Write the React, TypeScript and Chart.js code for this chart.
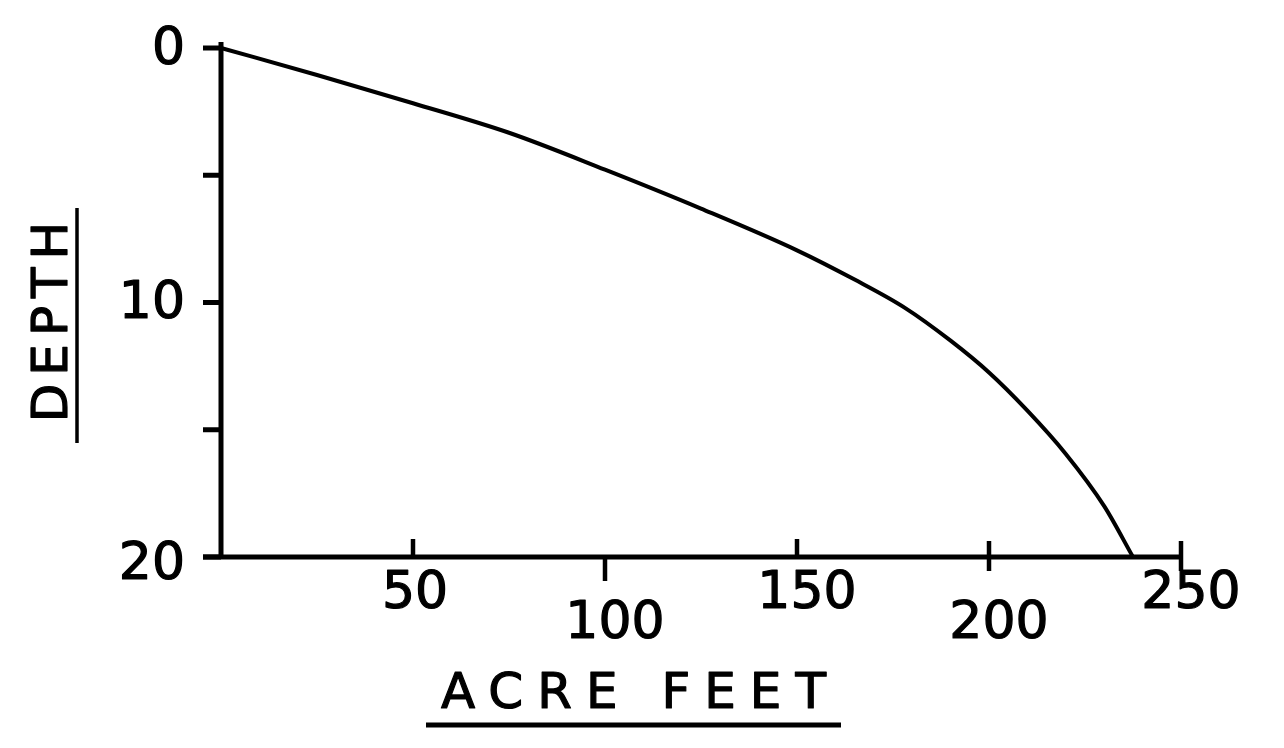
import { useEffect, useRef } from "react";
import { Chart, registerables } from "chart.js";

Chart.register(...registerables);

// ---- data ----
const acreFeet = [0, 25, 50, 75, 100, 125, 150, 165, 178, 190, 200, 210, 220, 230, 237.5];
const depth = [0, 1.06, 2.17, 3.33, 4.78, 6.31, 7.95, 9.1, 10.2, 11.5, 12.75, 14.25, 15.95, 18.0, 20];

const xTickValues = [50, 100, 150, 200, 250];
const xTickLabels = ["50", "100", "150", "200", "250"];
const yTickValues = [0, 5, 10, 15, 20];
const yTickLabels = ["0", "", "10", "", "20"];
const xTitle = "ACRE FEET";
const yTitle = "DEPTH";

// tick-mark side for each x tick (style only)
const X_TICK_SIDE = ["up", "down", "up", "both", "both"];

const FONT = '"DejaVu Sans", "Liberation Sans", sans-serif';

const handAxes = {
  id: "handAxes",
  beforeDatasetsDraw(chart: any) {
    const { ctx, scales } = chart;
    const x = scales.x;
    const y = scales.y;
    const x0 = x.getPixelForValue(0);
    const xEnd = x.getPixelForValue(250);
    const yTop = y.getPixelForValue(0);
    const yBot = y.getPixelForValue(20);

    const line = (a: number, b: number, c: number, d: number) => {
      ctx.beginPath();
      ctx.moveTo(a, b);
      ctx.lineTo(c, d);
      ctx.stroke();
    };
    const text = (t: string, px: number, py: number) => {
      ctx.fillText(t, px, py);
      ctx.strokeText(t, px, py);
    };

    ctx.save();
    ctx.strokeStyle = "#000";
    ctx.fillStyle = "#000";
    ctx.lineWidth = 5;
    ctx.lineCap = "butt";

    // axes
    line(x0, yTop - 6, x0, yBot + 2);
    line(x0 - 18, yBot, xEnd + 2, yBot);

    // y ticks (left side)
    yTickValues.forEach((v) => {
      const py = y.getPixelForValue(v);
      line(x0 - 18, py, x0, py);
    });

    // x ticks
    ctx.lineWidth = 4.5;
    xTickValues.forEach((v, i) => {
      const px = x.getPixelForValue(v);
      const side = X_TICK_SIDE[i];
      if (side === "up") line(px, yBot - 18, px, yBot);
      else if (side === "down") line(px, yBot, px, yBot + 24);
      else line(px, yBot - 16, px, yBot + 14);
    });

    ctx.lineWidth = 1.2;
    ctx.lineJoin = "round";

    // y tick labels
    ctx.font = `52px ${FONT}`;
    ctx.textAlign = "right";
    ctx.textBaseline = "middle";
    yTickValues.forEach((v, i) => {
      const t = yTickLabels[i];
      if (!t) return;
      const py = y.getPixelForValue(v);
      text(t, x0 - 36, py + (v === 20 ? 8 : 2));
    });

    // x tick labels, staggered
    ctx.textAlign = "center";
    xTickValues.forEach((v, i) => {
      const px = x.getPixelForValue(v);
      const py = i % 2 === 0 ? yBot + 37 : yBot + 67;
      text(xTickLabels[i], px + (i === 0 ? 2 : 10), py);
    });

    // x title with letter spacing + underline
    ctx.font = `50px ${FONT}`;
    ctx.textAlign = "left";
    ctx.textBaseline = "alphabetic";
    (ctx as any).letterSpacing = "14px";
    text(xTitle, 441, 708);

    // y title rotated
    ctx.save();
    ctx.translate(67, 322);
    ctx.rotate(-Math.PI / 2);
    (ctx as any).letterSpacing = "8px";
    ctx.textAlign = "center";
    text(yTitle, 4, 0);
    ctx.restore();
    (ctx as any).letterSpacing = "0px";

    // underlines
    ctx.lineWidth = 5;
    line(426, 725, 841, 725);
    ctx.lineWidth = 3.5;
    line(77, 208, 77, 443);

    ctx.restore();
  },
};

export default function App() {
  const ref = useRef<HTMLCanvasElement | null>(null);

  useEffect(() => {
    document.body.style.margin = "0";
    document.body.style.background = "#fff";
    const canvas = ref.current;
    if (!canvas) return;
    const chart = new Chart(canvas, {
      type: "line",
      data: {
        datasets: [
          {
            label: "Depth vs acre feet",
            data: acreFeet.map((a, i) => ({ x: a, y: depth[i] })),
            borderColor: "#000",
            borderWidth: 4,
            pointRadius: 0,
            cubicInterpolationMode: "monotone",
            fill: false,
            clip: false as any,
          },
        ],
      },
      options: {
        animation: false,
        responsive: false,
        maintainAspectRatio: false,
        layout: { padding: { left: 221, right: 103, top: 48, bottom: 191 } },
        plugins: { legend: { display: false }, tooltip: { enabled: false } },
        scales: {
          x: { type: "linear", min: 0, max: 250, display: false },
          y: { type: "linear", min: 0, max: 20, reverse: true, display: false },
        },
      },
      plugins: [handAxes],
    });
    return () => chart.destroy();
  }, []);

  return (
    <div style={{ position: "fixed", left: 0, top: 0, width: 1284, height: 748, background: "#fff" }}>
      <canvas ref={ref} width={1284} height={748} style={{ width: 1284, height: 748, display: "block" }} />
    </div>
  );
}
